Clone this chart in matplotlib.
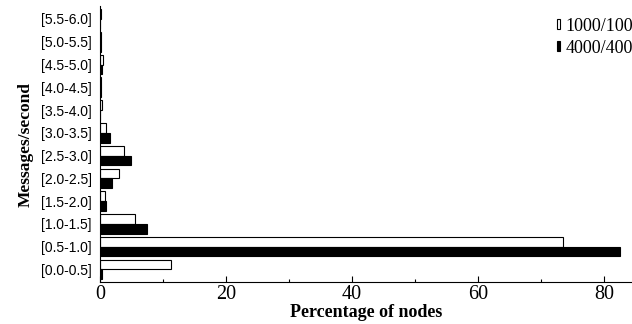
import matplotlib
matplotlib.use("Agg")
import matplotlib.pyplot as plt
import numpy as np

# message rate buckets (msgs/sec) and share of nodes in each
buckets = ["[0.0-0.5]", "[0.5-1.0]", "[1.0-1.5]", "[1.5-2.0]", "[2.0-2.5]", "[2.5-3.0]",
           "[3.0-3.5]", "[3.5-4.0]", "[4.0-4.5]", "[4.5-5.0]", "[5.0-5.5]", "[5.5-6.0]"]
pct_1000 = [11.3, 73.5, 5.6, 0.8, 3.0, 3.8, 1.0, 0.4, 0.2, 0.5, 0.2, 0.2]
pct_4000 = [0.3, 82.5, 7.5, 1.0, 2.0, 4.9, 1.6, 0.1, 0.2, 0.3, 0.2, 0.1]
series_names = ["1000/1000", "4000/4000"]

serif = ["Liberation Serif", "DejaVu Serif"]
sans = ["Liberation Sans", "DejaVu Sans"]

fig = plt.figure(figsize=(6.32, 3.24), dpi=100)
ax = fig.add_axes([0.158, 0.13, 0.842, 0.85])

y = np.arange(len(buckets))
h = 0.43
ax.barh(y + h / 2, pct_1000, height=h, color="white", edgecolor="black",
        linewidth=0.8, label=series_names[0])
ax.barh(y - h / 2, pct_4000, height=h, color="black", edgecolor="black",
        linewidth=0.8, label=series_names[1])

ax.set_xlim(0, 84.4)
ax.set_ylim(-0.55, 11.55)
ax.set_yticks(y)
ax.set_yticklabels(buckets, fontfamily=sans, fontsize=10)
ax.set_xticks([0, 20, 40, 60, 80])
ax.set_xticks([10, 30, 50, 70], minor=True)
for lab in ax.get_xticklabels():
    lab.set_fontfamily(serif)
    lab.set_fontsize(14.5)
ax.tick_params(axis="x", which="major", direction="in", length=4, width=0.8, pad=2)
ax.tick_params(axis="x", which="minor", direction="in", length=2.5, width=0.8)
ax.tick_params(axis="y", length=0, pad=6)

for side in ["top", "right"]:
    ax.spines[side].set_visible(False)
ax.spines["left"].set_linewidth(0.8)
ax.spines["bottom"].set_linewidth(0.8)

ax.set_xlabel("Percentage of nodes", fontfamily=serif, fontweight="bold",
              fontsize=13, labelpad=0)
ax.set_ylabel("Messages/second", fontfamily=serif, fontweight="bold",
              fontsize=12.5, labelpad=5)

# legend sits against the right edge; its labels run past the canvas
leg = ax.legend(loc="upper left", bbox_to_anchor=(0.846, 0.985), frameon=False,
                handlelength=0.17, handleheight=0.48, handletextpad=0.28,
                labelspacing=0.28, borderaxespad=0,
                prop={"family": serif, "size": 13})

fig.savefig("out.png", dpi=100)
